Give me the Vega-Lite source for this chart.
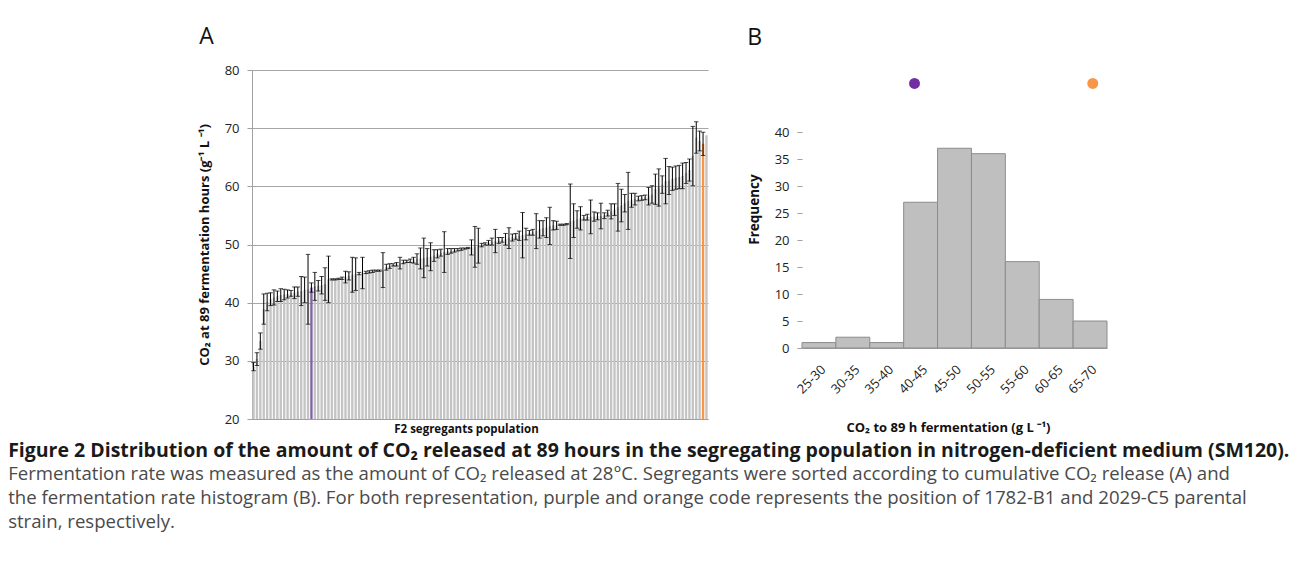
{
  "$schema": "https://vega.github.io/schema/vega-lite/v6.json",
  "padding": {"left": 8, "top": 26, "right": 0, "bottom": 0},
  "background": "white",
  "config": {
    "font": "Open Sans",
    "view": {"stroke": null},
    "axis": {"labelColor": "#222222", "titleColor": "#111111", "domainColor": "#a0a0a0", "tickColor": "#a0a0a0", "gridColor": "#a6a6a6", "labelOverlap": false}
  },
  "datasets": {
    "seg": [
      {"i":0,"v":29.0,"e":0.7,"s":"segregant"},{"i":1,"v":30.3,"e":1.1,"s":"segregant"},{"i":2,"v":33.4,"e":1.4,"s":"segregant"},{"i":3,"v":38.9,"e":2.6,"s":"segregant"},
      {"i":4,"v":40.1,"e":1.5,"s":"segregant"},{"i":5,"v":40.6,"e":1.1,"s":"segregant"},{"i":6,"v":40.9,"e":1.3,"s":"segregant"},{"i":7,"v":41.1,"e":0.9,"s":"segregant"},
      {"i":8,"v":41.3,"e":1.1,"s":"segregant"},{"i":9,"v":41.4,"e":0.9,"s":"segregant"},{"i":10,"v":41.5,"e":0.7,"s":"segregant"},{"i":11,"v":41.6,"e":0.5,"s":"segregant"},
      {"i":12,"v":41.7,"e":1.0,"s":"segregant"},{"i":13,"v":41.9,"e":0.8,"s":"segregant"},{"i":14,"v":42.0,"e":2.5,"s":"segregant"},{"i":15,"v":42.2,"e":2.2,"s":"segregant"},
      {"i":16,"v":42.3,"e":6.0,"s":"segregant"},{"i":17,"v":42.6,"e":0.8,"s":"1782-B1"},{"i":18,"v":42.8,"e":2.4,"s":"segregant"},{"i":19,"v":42.9,"e":0.9,"s":"segregant"},
      {"i":20,"v":43.0,"e":1.5,"s":"segregant"},{"i":21,"v":43.2,"e":2.8,"s":"segregant"},{"i":22,"v":44.0,"e":4.0,"s":"segregant"},{"i":23,"v":44.0,"e":0.1,"s":"segregant"},
      {"i":24,"v":44.0,"e":0.1,"s":"segregant"},{"i":25,"v":44.1,"e":0.1,"s":"segregant"},{"i":26,"v":44.2,"e":0.2,"s":"segregant"},{"i":27,"v":44.4,"e":1.0,"s":"segregant"},
      {"i":28,"v":44.6,"e":0.7,"s":"segregant"},{"i":29,"v":44.8,"e":3.0,"s":"segregant"},{"i":30,"v":44.9,"e":2.8,"s":"segregant"},{"i":31,"v":45.0,"e":0.2,"s":"segregant"},
      {"i":32,"v":45.1,"e":2.7,"s":"segregant"},{"i":33,"v":45.2,"e":0.2,"s":"segregant"},{"i":34,"v":45.3,"e":0.2,"s":"segregant"},{"i":35,"v":45.4,"e":0.2,"s":"segregant"},
      {"i":36,"v":45.5,"e":0.1,"s":"segregant"},{"i":37,"v":45.5,"e":0.1,"s":"segregant"},{"i":38,"v":45.6,"e":3.0,"s":"segregant"},{"i":39,"v":46.1,"e":0.5,"s":"segregant"},
      {"i":40,"v":46.3,"e":0.4,"s":"segregant"},{"i":41,"v":46.5,"e":0.2,"s":"segregant"},{"i":42,"v":46.6,"e":0.3,"s":"segregant"},{"i":43,"v":46.8,"e":1.0,"s":"segregant"},
      {"i":44,"v":47.0,"e":0.3,"s":"segregant"},{"i":45,"v":47.1,"e":0.2,"s":"segregant"},{"i":46,"v":47.2,"e":0.3,"s":"segregant"},{"i":47,"v":47.3,"e":0.5,"s":"segregant"},
      {"i":48,"v":47.5,"e":0.9,"s":"segregant"},{"i":49,"v":47.6,"e":1.8,"s":"segregant"},{"i":50,"v":47.7,"e":3.4,"s":"segregant"},{"i":51,"v":47.8,"e":1.5,"s":"segregant"},
      {"i":52,"v":47.9,"e":2.4,"s":"segregant"},{"i":53,"v":48.1,"e":1.0,"s":"segregant"},{"i":54,"v":48.4,"e":0.7,"s":"segregant"},{"i":55,"v":48.6,"e":0.6,"s":"segregant"},
      {"i":56,"v":48.7,"e":3.5,"s":"segregant"},{"i":57,"v":48.8,"e":0.5,"s":"segregant"},{"i":58,"v":48.9,"e":0.4,"s":"segregant"},{"i":59,"v":49.0,"e":0.3,"s":"segregant"},
      {"i":60,"v":49.1,"e":0.2,"s":"segregant"},{"i":61,"v":49.2,"e":0.2,"s":"segregant"},{"i":62,"v":49.3,"e":0.1,"s":"segregant"},{"i":63,"v":49.4,"e":0.1,"s":"segregant"},
      {"i":64,"v":49.5,"e":1.3,"s":"segregant"},{"i":65,"v":49.6,"e":3.5,"s":"segregant"},{"i":66,"v":49.8,"e":3.0,"s":"segregant"},{"i":67,"v":49.9,"e":0.3,"s":"segregant"},
      {"i":68,"v":50.1,"e":0.2,"s":"segregant"},{"i":69,"v":50.3,"e":0.4,"s":"segregant"},{"i":70,"v":50.5,"e":0.6,"s":"segregant"},{"i":71,"v":50.6,"e":2.0,"s":"segregant"},
      {"i":72,"v":50.7,"e":0.5,"s":"segregant"},{"i":73,"v":50.8,"e":0.4,"s":"segregant"},{"i":74,"v":50.9,"e":1.0,"s":"segregant"},{"i":75,"v":51.1,"e":1.8,"s":"segregant"},
      {"i":76,"v":51.2,"e":0.6,"s":"segregant"},{"i":77,"v":51.4,"e":0.5,"s":"segregant"},{"i":78,"v":51.5,"e":0.8,"s":"segregant"},{"i":79,"v":51.6,"e":3.9,"s":"segregant"},
      {"i":80,"v":51.8,"e":1.0,"s":"segregant"},{"i":81,"v":52.0,"e":0.4,"s":"segregant"},{"i":82,"v":52.1,"e":0.5,"s":"segregant"},{"i":83,"v":52.3,"e":3.0,"s":"segregant"},
      {"i":84,"v":52.6,"e":1.5,"s":"segregant"},{"i":85,"v":52.8,"e":1.3,"s":"segregant"},{"i":86,"v":52.9,"e":1.7,"s":"segregant"},{"i":87,"v":53.2,"e":3.2,"s":"segregant"},
      {"i":88,"v":53.3,"e":0.8,"s":"segregant"},{"i":89,"v":53.3,"e":0.7,"s":"segregant"},{"i":90,"v":53.4,"e":0.1,"s":"segregant"},{"i":91,"v":53.4,"e":0.1,"s":"segregant"},
      {"i":92,"v":53.5,"e":0.1,"s":"segregant"},{"i":93,"v":54.0,"e":6.4,"s":"segregant"},{"i":94,"v":54.1,"e":2.9,"s":"segregant"},{"i":95,"v":54.3,"e":1.5,"s":"segregant"},
      {"i":96,"v":54.5,"e":2.0,"s":"segregant"},{"i":97,"v":54.6,"e":0.4,"s":"segregant"},{"i":98,"v":54.7,"e":0.5,"s":"segregant"},{"i":99,"v":54.75,"e":2.9,"s":"segregant"},
      {"i":100,"v":54.8,"e":0.8,"s":"segregant"},{"i":101,"v":54.85,"e":0.6,"s":"segregant"},{"i":102,"v":54.9,"e":2.2,"s":"segregant"},{"i":103,"v":54.95,"e":0.5,"s":"segregant"},
      {"i":104,"v":55.4,"e":0.5,"s":"segregant"},{"i":105,"v":55.7,"e":1.3,"s":"segregant"},{"i":106,"v":56.0,"e":1.0,"s":"segregant"},{"i":107,"v":56.4,"e":4.1,"s":"segregant"},
      {"i":108,"v":56.7,"e":2.8,"s":"segregant"},{"i":109,"v":57.1,"e":1.5,"s":"segregant"},{"i":110,"v":57.5,"e":4.9,"s":"segregant"},{"i":111,"v":57.6,"e":1.2,"s":"segregant"},
      {"i":112,"v":57.8,"e":1.0,"s":"segregant"},{"i":113,"v":57.9,"e":0.4,"s":"segregant"},{"i":114,"v":58.0,"e":0.4,"s":"segregant"},{"i":115,"v":58.1,"e":0.4,"s":"segregant"},
      {"i":116,"v":58.3,"e":1.5,"s":"segregant"},{"i":117,"v":58.6,"e":1.5,"s":"segregant"},{"i":118,"v":59.5,"e":2.6,"s":"segregant"},{"i":119,"v":59.8,"e":3.2,"s":"segregant"},
      {"i":120,"v":60.3,"e":1.5,"s":"segregant"},{"i":121,"v":60.9,"e":3.9,"s":"segregant"},{"i":122,"v":61.0,"e":2.4,"s":"segregant"},{"i":123,"v":61.3,"e":2.0,"s":"segregant"},
      {"i":124,"v":61.5,"e":2.0,"s":"segregant"},{"i":125,"v":61.6,"e":2.0,"s":"segregant"},{"i":126,"v":61.8,"e":2.2,"s":"segregant"},{"i":127,"v":62.3,"e":1.8,"s":"segregant"},
      {"i":128,"v":62.8,"e":1.9,"s":"segregant"},{"i":129,"v":65.2,"e":5.1,"s":"segregant"},{"i":130,"v":68.4,"e":2.7,"s":"segregant"},{"i":131,"v":67.8,"e":1.7,"s":"segregant"},
      {"i":132,"v":67.3,"e":2.0,"s":"2029-C5"},{"i":133,"v":68.8,"e":0,"s":"segregant"}
    ],
    "hist": [
      {"lo":25,"hi":30,"n":1},{"lo":30,"hi":35,"n":2},{"lo":35,"hi":40,"n":1},
      {"lo":40,"hi":45,"n":27},{"lo":45,"hi":50,"n":37},{"lo":50,"hi":55,"n":36},
      {"lo":55,"hi":60,"n":16},{"lo":60,"hi":65,"n":9},{"lo":65,"hi":70,"n":5}
    ],
    "par": [
      {"strain":"1782-B1","co2":41.6},{"strain":"2029-C5","co2":67.9}
    ]
  },
  "title": {
    "text": "Figure 2 Distribution of the amount of CO₂ released at 89 hours in the segregating population in nitrogen-deficient medium (SM120).",
    "subtitle": [
      "Fermentation rate was measured as the amount of CO₂ released at 28°C. Segregants were sorted according to cumulative CO₂ release (A) and",
      "the fermentation rate histogram (B). For both representation, purple and orange code represents the position of 1782-B1 and 2029-C5 parental",
      "strain, respectively."
    ],
    "orient": "bottom",
    "anchor": "start",
    "dx": -190,
    "offset": 7,
    "font": "Open Sans",
    "fontSize": 19.5,
    "fontWeight": "bold",
    "color": "#1a1a1a",
    "subtitleFont": "Open Sans",
    "subtitleFontSize": 18.6,
    "subtitleColor": "#4a4a4a",
    "subtitlePadding": 4,
    "subtitleLineHeight": 24
  },
  "resolve": {"scale": {"color": "independent"}},
  "spacing": 39,
  "hconcat": [
    {
      "width": 456,
      "height": 349,
      "title": {"text": "A", "anchor": "start", "dx": 1, "fontSize": 23, "fontWeight": "normal", "offset": 15, "color": "#111111"},
      "data": {"name": "seg"},
      "layer": [
        {
          "mark": {"type": "bar"},
          "encoding": {
            "x": {"field": "i", "type": "ordinal", "scale": {"paddingInner": 0.3, "paddingOuter": 0.1},
                  "axis": {"title": "F2 segregants population", "labels": false, "ticks": false, "titleFontSize": 11.5, "titleFontWeight": "bold", "titlePadding": 4, "titleX": 214}},
            "y": {"field": "v", "type": "quantitative", "scale": {"domain": [20, 80], "nice": false, "zero": false},
                  "title": "CO₂ at 89 fermentation hours (g⁻¹ L ⁻¹)",
                  "axis": {"values": [20, 30, 40, 50, 60, 70, 80], "tickCount": 20, "labelOverlap": false, "titleFontSize": 13, "titleFontWeight": "bold", "titlePadding": 13, "labelFontSize": 13, "tickSize": 5, "labelPadding": 8, "grid": true}},
            "y2": {"datum": 20},
            "color": {"field": "s", "type": "nominal", "scale": {"domain": ["segregant", "1782-B1", "2029-C5"], "range": ["#c4c4c4", "#8064a2", "#f79646"]}, "legend": null}
          }
        },
        {
          "transform": [{"filter": "datum.e > 0"}],
          "mark": {"type": "errorbar", "color": "black", "ticks": {"size": 4.5, "color": "black"}, "rule": {"color": "black", "strokeWidth": 1}},
          "encoding": {
            "x": {"field": "i", "type": "ordinal"},
            "y": {"field": "v", "type": "quantitative", "title": "CO₂ at 89 fermentation hours (g⁻¹ L ⁻¹)"},
            "yError": {"field": "e"}
          }
        }
      ]
    },
    {
      "width": 305,
      "height": 278,
      "title": {"text": "B", "anchor": "start", "dx": 0, "fontSize": 23, "fontWeight": "normal", "offset": 20, "color": "#111111"},
      "layer": [
        {
          "data": {"name": "hist"},
          "mark": {"type": "bar", "fill": "#bfbfbf", "stroke": "#8c8c8c", "strokeWidth": 1},
          "encoding": {
            "x": {"field": "lo", "type": "quantitative", "scale": {"domain": [25, 70], "nice": false, "zero": false},
                  "axis": {"values": [27.5, 32.5, 37.5, 42.5, 47.5, 52.5, 57.5, 62.5, 67.5], "tickCount": 20, "labelOverlap": false, "labelExpr": "(datum.value - 2.5) + '-' + (datum.value + 2.5)", "labelAngle": -45, "labelFontSize": 13, "ticks": false, "labelPadding": 15, "grid": false,
                           "title": "CO₂ to 89 h fermentation (g L ⁻¹)", "titleFontSize": 13, "titleFontWeight": "bold", "titlePadding": 25, "titleX": 146}},
            "x2": {"field": "hi"},
            "y": {"field": "n", "type": "quantitative", "scale": {"domain": [0, 51.5], "nice": false},
                  "axis": {"values": [0, 5, 10, 15, 20, 25, 30, 35, 40], "tickCount": 20, "labelOverlap": false, "title": "Frequency", "titleFontSize": 13.5, "titleFontWeight": "bold", "titlePadding": 13, "labelFontSize": 13, "tickSize": 5, "labelPadding": 8, "grid": false, "domain": false}},
            "y2": {"datum": 0}
          }
        },
        {
          "mark": {"type": "rule", "color": "#a0a0a0", "strokeWidth": 1},
          "encoding": {
            "x": {"datum": 25},
            "y": {"datum": 0},
            "y2": {"datum": 40}
          }
        },
        {
          "data": {"name": "par"},
          "mark": {"type": "point", "filled": true, "size": 120, "opacity": 1, "clip": false},
          "encoding": {
            "x": {"field": "co2", "type": "quantitative"},
            "y": {"datum": 49},
            "color": {"field": "strain", "type": "nominal", "scale": {"domain": ["1782-B1", "2029-C5"], "range": ["#7030a0", "#f79646"]}, "legend": null}
          }
        }
      ]
    }
  ]
}
